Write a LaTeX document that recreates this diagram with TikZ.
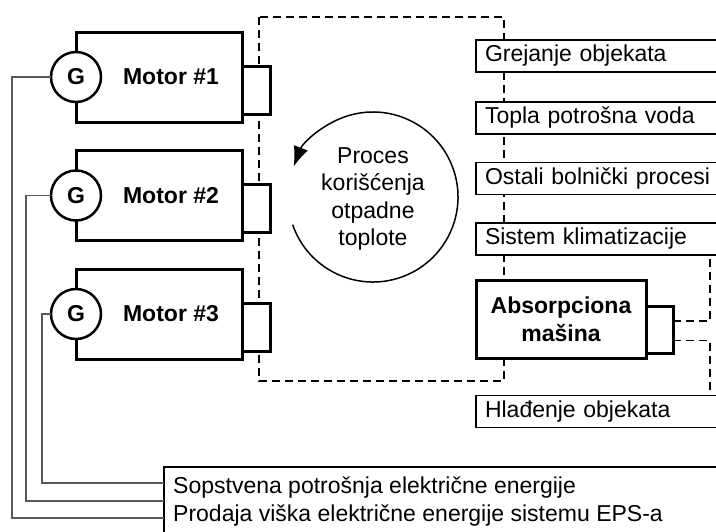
\documentclass[tikz,border=0pt]{standalone}
\usepackage{fontspec}
\setmainfont{Liberation Sans}
\usetikzlibrary{arrows.meta,positioning}
\newcommand{\diagfont}{\fontsize{23}{27.6}\selectfont}

\begin{document}
\begin{tikzpicture}[x=1pt,y=-1pt,
  motor/.style={draw, line width=3pt, minimum width=166pt, minimum height=90pt, inner sep=0pt, outer sep=0pt},
  gen/.style={circle, draw, fill=white, line width=2.5pt, minimum size=50pt, inner sep=0pt, outer sep=0pt, font=\diagfont\bfseries},
  outlet/.style={draw, fill=white, line width=3pt, minimum width=28pt, minimum height=48pt, inner sep=0pt, outer sep=0pt},
  consumer/.style={draw, fill=white, line width=1.4pt, minimum height=32pt, text width=252pt, inner xsep=9pt, inner ysep=2pt, outer sep=0pt, align=left, anchor=west, font=\diagfont},
  label/.style={inner sep=0pt, font=\diagfont},
  pipe/.style={line width=1.8pt, dash pattern=on 8pt off 5pt},
  wire/.style={draw=black!65, line width=1.2pt}]
\path[use as bounding box, clip] (0,0) rectangle (716,531);

% heat recovery loop
\draw[pipe] (259,17) rectangle (504,381);
\coordinate (cyc) at (373,197);
\draw[line width=1.5pt, -{Latex[length=20pt,width=15pt]}] (cyc) ++(161:85) arc[start angle=161, end angle=-159, radius=85];
\node[align=center, font=\diagfont] (proc) at ([yshift=-2pt]cyc) {Proces\\korišćenja\\otpadne\\toplote};

% motors with generators
\node[motor] (m1) at (159,77) {};
\node[gen] (g1) at (m1.west) {G};
\node[outlet] (o1) at ([xshift=14pt,yshift=-13pt]m1.east) {};
\node[label, font=\diagfont\bfseries] (t1) at ([xshift=12pt]m1.center) {Motor \#1};

\node[motor] (m2) at (159,195.5) {};
\node[gen] (g2) at (m2.west) {G};
\node[outlet] (o2) at ([xshift=14pt,yshift=-13pt]m2.east) {};
\node[label, font=\diagfont\bfseries] (t2) at ([xshift=12pt]m2.center) {Motor \#2};

\node[motor] (m3) at (159,314) {};
\node[gen] (g3) at (m3.west) {G};
\node[outlet] (o3) at ([xshift=14pt,yshift=-13pt]m3.east) {};
\node[label, font=\diagfont\bfseries] (t3) at ([xshift=12pt]m3.center) {Motor \#3};

% heat consumers
\node[consumer] (grej) at (476,56) {Grejanje objekata};
\node[consumer] (topla) at (476,118) {Topla potrošna voda};
\node[consumer] (ostali) at (476,178.5) {Ostali bolnički procesi};
\node[consumer] (klima) at (476,239) {Sistem klimatizacije};
\node[consumer] (hlad) at (476,411.5) {Hlađenje objekata};

\node[draw, fill=white, line width=3pt, minimum width=170pt, minimum height=78pt, outer sep=0pt, align=center, font=\diagfont\bfseries] (abs) at (561,319) {Absorpciona\\mašina};
\node[outlet, minimum width=27pt, minimum height=47pt] (ao) at (659.5,329.5) {};

\coordinate (rt) at (710,0);
\draw[pipe] ([yshift=8.5pt]ao.east) -| (rt |- klima.south);
\draw[pipe] ([yshift=-11pt]ao.east) -| (rt |- hlad.north);

% electricity
\node[draw, fill=white, line width=1.4pt, minimum width=580pt, minimum height=100pt, anchor=north west, outer sep=0pt] (elec) at (164,467) {};
\node[label, anchor=base west] (sopst) at (173,493) {Sopstvena potrošnja električne energije};
\node[label, anchor=base west] (prod) at (173,521) {Prodaja viška električne energije sistemu EPS-a};

\coordinate (k1) at (12,518);
\coordinate (k2) at (26,501);
\coordinate (k3) at (42,483);
\draw[wire] (g1.west) -| (k1) -- (k1 -| elec.west);
\draw[wire] (g2.west) -| (k2) -- (k2 -| elec.west);
\draw[wire] (g3.west) -| (k3) -- (k3 -| elec.west);
\end{tikzpicture}
\end{document}
